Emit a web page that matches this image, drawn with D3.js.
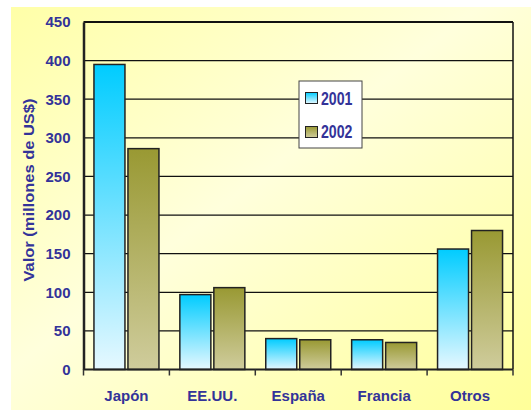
<!DOCTYPE html>
<html>
<head>
<meta charset="utf-8">
<script src="https://cdn.jsdelivr.net/npm/d3@7"></script>
<style>
  body { margin: 0; background: #fff; }
  text { font-family: Arial, "Liberation Sans", sans-serif; font-weight: bold; fill: #333399; }
</style>
</head>
<body>
<svg id="chart" width="531" height="410"></svg>
<script>
/* data */
const categories = ["Japón", "EE.UU.", "España", "Francia", "Otros"];
const years = ["2001", "2002"];
const values2001 = [395, 97, 40, 38.5, 156];
const values2002 = [286, 106, 38.5, 35, 180];
const yTicks = [0, 50, 100, 150, 200, 250, 300, 350, 400, 450];

/* display parameters */
const svg = d3.select("#chart"),
  plot_left = 83.5,
  plot_right = 513,
  plot_top = 22,
  plot_bottom = 369.5;

const defs = svg.append("defs");

let bg = defs.append("linearGradient").attr("id", "bg")
  .attr("x1", "0%").attr("y1", "0%").attr("x2", "100%").attr("y2", "100%");
bg.append("stop").attr("offset", "0%").attr("stop-color", "#ffffa8");
bg.append("stop").attr("offset", "45%").attr("stop-color", "#ffffdc");
bg.append("stop").attr("offset", "100%").attr("stop-color", "#ffff99");

let g1 = defs.append("linearGradient").attr("id", "g2001")
  .attr("x1", 0).attr("y1", 0).attr("x2", 0).attr("y2", 1);
g1.append("stop").attr("offset", "0%").attr("stop-color", "#00ccff");
g1.append("stop").attr("offset", "100%").attr("stop-color", "#e6f8ff");

let g2 = defs.append("linearGradient").attr("id", "g2002")
  .attr("x1", 0).attr("y1", 0).attr("x2", 0).attr("y2", 1);
g2.append("stop").attr("offset", "0%").attr("stop-color", "#999933");
g2.append("stop").attr("offset", "100%").attr("stop-color", "#cfcc9c");

svg.append("rect")
  .attr("x", 11).attr("y", 7).attr("width", 520).attr("height", 403)
  .attr("fill", "url(#bg)");

/* scales */
const x = d3.scaleBand().domain(categories).range([plot_left, plot_right]).padding(0);
const y = d3.scaleLinear().domain([0, 450]).range([plot_bottom, plot_top]);

/* grid */
svg.append("g")
  .selectAll("line")
  .data(yTicks.slice(1))
  .join("line")
  .attr("x1", plot_left).attr("x2", plot_right)
  .attr("y1", d => y(d)).attr("y2", d => y(d))
  .attr("stroke", "#111")
  .attr("stroke-width", d => d === 450 ? 2 : 1.2);

svg.append("line")
  .attr("x1", plot_right).attr("x2", plot_right).attr("y1", plot_top).attr("y2", plot_bottom)
  .attr("stroke", "#111").attr("stroke-width", 1.5);

/* bars */
const barW = 31, gap = 3;
const off = (x.bandwidth() - 2 * barW - gap) / 2;
const series = [values2001, values2002];

series.forEach((vals, s) => {
  svg.append("g")
    .selectAll("rect")
    .data(vals)
    .join("rect")
    .attr("x", (d, i) => x(categories[i]) + off + s * (barW + gap))
    .attr("y", d => y(d))
    .attr("width", barW)
    .attr("height", d => y(0) - y(d))
    .attr("fill", "url(#g" + years[s] + ")")
    .attr("stroke", "#222")
    .attr("stroke-width", 1.5);
});

/* axes */
const yAxis = svg.append("g")
  .attr("transform", "translate(" + plot_left + ",0)")
  .call(d3.axisLeft(y).tickValues(yTicks).tickSize(0).tickPadding(13));
yAxis.select(".domain").attr("stroke", "#222").attr("stroke-width", 2.5);
yAxis.selectAll(".tick text")
  .attr("font-size", 15).attr("fill", "#333399")
  .attr("font-family", "Arial, 'Liberation Sans', sans-serif");

const xAxis = svg.append("g")
  .attr("transform", "translate(0," + plot_bottom + ")");
xAxis.append("line")
  .attr("x1", plot_left).attr("x2", plot_right).attr("y1", 0).attr("y2", 0)
  .attr("stroke", "#222").attr("stroke-width", 2);
xAxis.selectAll(".ctick")
  .data(categories.map(c => x(c)).concat([plot_right]))
  .join("line")
  .attr("class", "ctick")
  .attr("x1", d => d).attr("x2", d => d)
  .attr("y1", 0).attr("y2", 6)
  .attr("stroke", "#333").attr("stroke-width", 1.5);
xAxis.selectAll(".clabel")
  .data(categories)
  .join("text")
  .attr("class", "clabel")
  .attr("x", d => x(d) + x.bandwidth() / 2)
  .attr("y", 31)
  .attr("text-anchor", "middle")
  .attr("font-size", 15)
  .text(d => d);

svg.append("text")
  .attr("transform", "translate(33.5,190) rotate(-90)")
  .attr("text-anchor", "middle")
  .attr("font-size", 15)
  .attr("textLength", 183)
  .attr("lengthAdjust", "spacingAndGlyphs")
  .text("Valor (millones de US$)");

/* legend */
const legend = svg.append("g").attr("transform", "translate(299,81)");
legend.append("rect")
  .attr("width", 63).attr("height", 67)
  .attr("fill", "#fff").attr("stroke", "#444").attr("stroke-width", 1);
years.forEach((yr, i) => {
  legend.append("rect")
    .attr("x", 6.5).attr("y", 11.5 + i * 34)
    .attr("width", 12).attr("height", 11)
    .attr("fill", "url(#g" + yr + ")")
    .attr("stroke", "#222").attr("stroke-width", 1);
  legend.append("text")
    .attr("x", 22).attr("y", 23.5 + i * 33)
    .attr("font-size", 17.5)
    .attr("textLength", 31.5)
    .attr("lengthAdjust", "spacingAndGlyphs")
    .text(yr);
});
</script>
</body>
</html>
